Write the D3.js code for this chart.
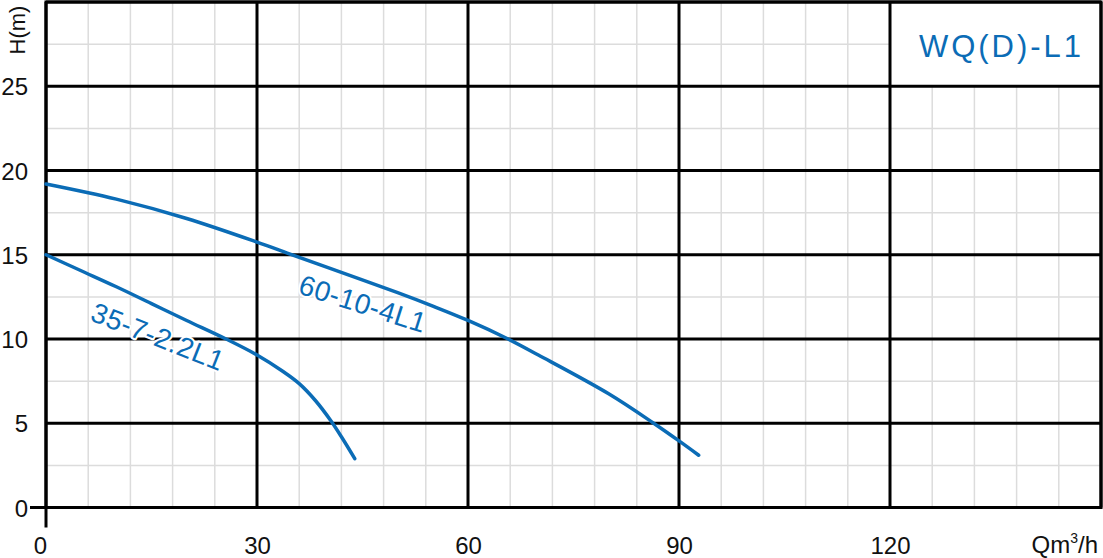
<!DOCTYPE html>
<html><head><meta charset="utf-8">
<script src="https://cdn.jsdelivr.net/npm/d3@7/dist/d3.min.js"></script>
<style>
body{margin:0;background:#fff;}
svg{display:block;}
svg text{font-family:"Liberation Sans",Arial,sans-serif;}
</style></head>
<body><svg id="c" width="1103" height="558"></svg>
<script>
const xTicks = [0, 30, 60, 90, 120];
const yTicks = [0, 5, 10, 15, 20, 25];
const seriesNames = ["60-10-4L1", "35-7-2.2L1"];
const q1 = [0, 10, 20, 30, 34.3, 40, 50, 55, 60, 65.7, 70, 80, 86.4, 90, 92.8];
const h1 = [19.2, 18.3, 17.15, 15.75, 15.1, 14.25, 12.75, 11.95, 11.1, 10.0, 9.05, 6.75, 5.0, 3.95, 3.1];
const q2 = [0, 5, 10, 15, 20, 25.6, 30, 33.6, 36, 38.3, 40.5, 42, 43.9];
const h2 = [15.0, 14.05, 13.1, 12.1, 11.1, 10.0, 9.05, 8.1, 7.35, 6.35, 5.15, 4.2, 2.9];
const legendTitle = "WQ(D)-L1";

const blue = "#0b6cb6";
const svg = d3.select("#c");
const x = d3.scaleLinear().domain([0, 150]).range([46, 1101]);
const y = d3.scaleLinear().domain([0, 30]).range([507.5, 2]);
const FF = "Liberation Sans, Arial, sans-serif";

// minor grid
const g = svg.append("g");
g.selectAll(".vx").data(d3.range(0, 151, 6)).join("line")
  .attr("x1", d => x(d)).attr("x2", d => x(d)).attr("y1", y(0)).attr("y2", y(30))
  .attr("stroke", "#dcdcdc").attr("stroke-width", 1.5);
g.selectAll(".hy").data(d3.range(0, 30.1, 2.5)).join("line")
  .attr("y1", d => y(d)).attr("y2", d => y(d)).attr("x1", x(0)).attr("x2", x(150))
  .attr("stroke", "#dcdcdc").attr("stroke-width", 1.5);

// legend box background
svg.append("rect").attr("x", x(120)).attr("y", y(30)).attr("width", x(150) - x(120)).attr("height", y(25) - y(30))
  .attr("fill", "#fff");

// major grid
const mg = svg.append("g");
mg.selectAll(".mx").data(xTicks.concat([150])).join("line")
  .attr("x1", d => x(d)).attr("x2", d => x(d)).attr("y1", y(0)).attr("y2", y(30))
  .attr("stroke", "#000").attr("stroke-width", 3);
mg.selectAll(".my").data(yTicks.concat([30])).join("line")
  .attr("y1", d => y(d)).attr("y2", d => y(d)).attr("x1", x(0)).attr("x2", x(150))
  .attr("stroke", "#000").attr("stroke-width", 3);
mg.append("line").attr("x1", x(0)).attr("x2", x(0)).attr("y1", y(0)).attr("y2", y(0) + 20).attr("stroke", "#000").attr("stroke-width", 3);
mg.append("line").attr("x1", x(0) - 16).attr("x2", x(0)).attr("y1", y(0)).attr("y2", y(0)).attr("stroke", "#000").attr("stroke-width", 3);
mg.append("rect").attr("x", x(0)).attr("y", y(30)).attr("width", x(150) - x(0)).attr("height", y(0) - y(30))
  .attr("fill", "none").attr("stroke", "#000").attr("stroke-width", 3);

// axes labels via d3 axes
const xa = svg.append("g").attr("transform", `translate(0,${y(0)})`)
  .call(d3.axisBottom(x).tickValues(xTicks).tickSize(0).tickFormat(d3.format("d")));
xa.attr("font-family", FF);
xa.select(".domain").remove();
xa.selectAll("text").attr("y", 46).attr("dy", 0).attr("font-size", 24).attr("fill", "#111")
  .attr("font-family", FF).attr("dx", d => d === 0 ? -6 : 0);
const ya = svg.append("g").attr("transform", `translate(${x(0)},0)`)
  .call(d3.axisLeft(y).tickValues(yTicks).tickSize(0).tickFormat(d3.format("d")));
ya.attr("font-family", FF);
ya.select(".domain").remove();
ya.selectAll("text").attr("x", -18).attr("dy", "0.36em").attr("font-size", 24).attr("fill", "#111")
  .attr("font-family", FF);

// axis titles
svg.append("text").attr("transform", "translate(25,30) rotate(-90)").attr("text-anchor", "middle")
  .attr("font-family", FF).attr("font-size", 22).attr("fill", "#111").text("H(m)");
const qt = svg.append("text").attr("x", 1098).attr("y", 553).attr("text-anchor", "end")
  .attr("font-family", FF).attr("font-size", 24).attr("fill", "#111");
qt.append("tspan").text("Qm");
qt.append("tspan").attr("dy", -10).attr("font-size", 14).text("3");
qt.append("tspan").attr("dy", 10).text("/h");

// legend title
svg.append("text").attr("x", x(135) + 6).attr("y", 57).attr("text-anchor", "middle")
  .attr("font-family", FF).attr("font-size", 31).attr("letter-spacing", 3).attr("fill", blue).text(legendTitle);

// curves
const line = d3.line().x(d => x(d[0])).y(d => y(d[1])).curve(d3.curveCatmullRom.alpha(0.5));
[[q1, h1], [q2, h2]].forEach(([q, h]) => {
  svg.append("path").datum(q.map((v, i) => [v, h[i]])).attr("d", line)
    .attr("fill", "none").attr("stroke", blue).attr("stroke-width", 3.5).attr("stroke-linecap", "round");
});

// curve labels
const lab = [[seriesNames[0], 297, 293, 17.7], [seriesNames[1], 89, 320, 21.5]];
lab.forEach(([t, lx, ly, a]) => {
  svg.append("text").attr("transform", `translate(${lx},${ly}) rotate(${a})`)
    .attr("font-family", FF).attr("font-size", 28).attr("letter-spacing", 0.5).attr("fill", blue)
    .attr("stroke", "#fff").attr("stroke-width", 4).attr("paint-order", "stroke")
    .attr("stroke-linejoin", "round").text(t);
});
</script></body></html>
